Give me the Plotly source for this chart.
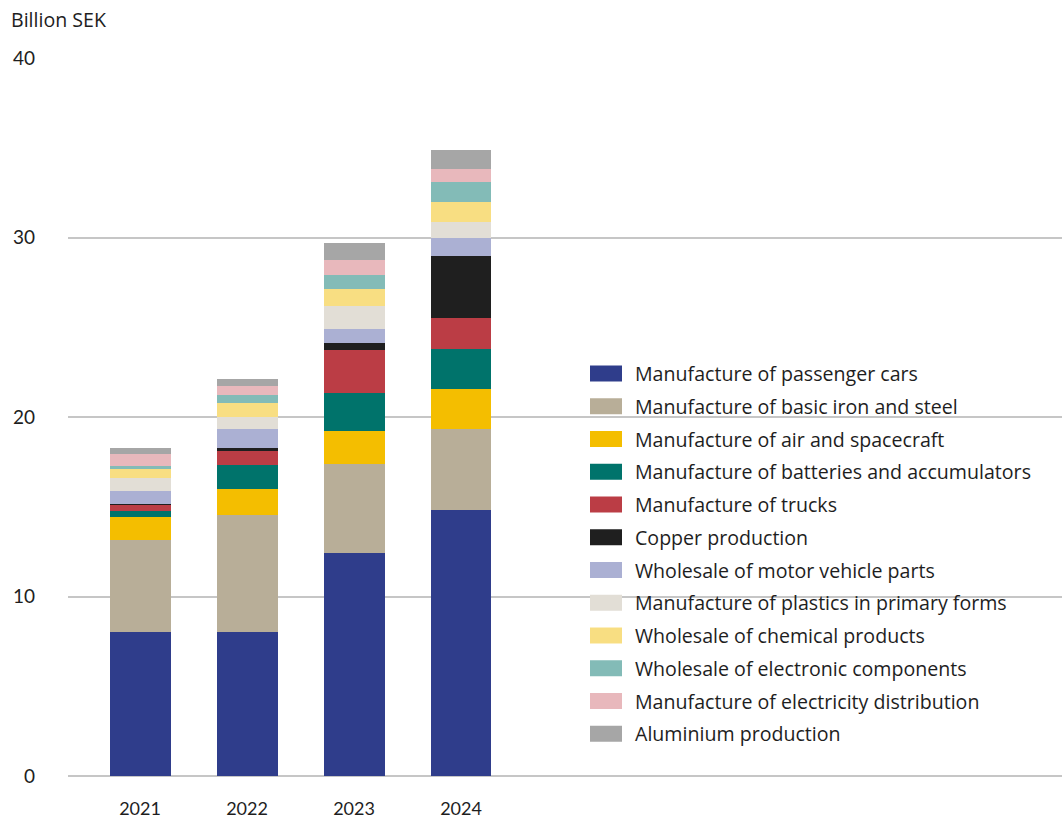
import plotly.graph_objects as go

years = ["2021", "2022", "2023", "2024"]
series_names = [
    "Manufacture of passenger cars",
    "Manufacture of basic iron and steel",
    "Manufacture of air and spacecraft",
    "Manufacture of batteries and accumulators",
    "Manufacture of trucks",
    "Copper production",
    "Wholesale of motor vehicle parts",
    "Manufacture of plastics in primary forms",
    "Wholesale of chemical products",
    "Wholesale of electronic components",
    "Manufacture of electricity distribution",
    "Aluminium production",
]
passenger_cars = [8.0, 8.0, 12.44, 14.82]
iron_steel = [5.16, 6.54, 4.94, 4.51]
air_spacecraft = [1.27, 1.45, 1.84, 2.23]
batteries = [0.33, 1.34, 2.12, 2.23]
trucks = [0.34, 0.78, 2.39, 1.73]
copper = [0.05, 0.16, 0.39, 3.45]
motor_parts = [0.73, 1.06, 0.78, 1.00]
plastics = [0.74, 0.67, 1.28, 0.89]
chemical = [0.48, 0.78, 0.95, 1.12]
electronic = [0.17, 0.45, 0.78, 1.11]
electricity = [0.67, 0.50, 0.84, 0.73]
aluminium = [0.33, 0.39, 0.94, 1.05]

series_values = [passenger_cars, iron_steel, air_spacecraft, batteries, trucks, copper,
                 motor_parts, plastics, chemical, electronic, electricity, aluminium]
colors = ["#2f3d8b", "#b8ae98", "#f4be00", "#00736b", "#bb3d45", "#1f1f1f",
          "#abb0d3", "#e2ded6", "#f8de82", "#83bbb7", "#e8b8bc", "#a6a6a6"]

FONT = "Lato"
LFONT = "Open Sans"
TXT = "#1e1e1e"

fig = go.Figure()
for name, vals, col in zip(series_names, series_values, colors):
    fig.add_trace(go.Bar(x=years, y=vals, name=name, marker=dict(color=col, line=dict(width=0)),
                         width=0.57, showlegend=False))

W, H = 1062, 824
ml, mr, mt, mb = 68, 0, 58, 48
pw, ph = W - ml - mr, H - mt - mb

def px_x(x):
    return (x - ml) / pw

def px_y(y):
    return (H - mb - y) / ph

shapes = []
annotations = []
for i, (name, col) in enumerate(zip(series_names, colors)):
    yc = 373.5 + i * 32.75
    shapes.append(dict(type="rect", xref="paper", yref="paper",
                       x0=px_x(590), x1=px_x(622), y0=px_y(yc + 8), y1=px_y(yc - 8),
                       fillcolor=col, line=dict(width=0)))
    annotations.append(dict(xref="paper", yref="paper", x=px_x(633), y=px_y(yc),
                            xanchor="left", yanchor="middle", showarrow=False,
                            text=name, font=dict(family=LFONT, size=19.6, color=TXT)))

annotations.append(dict(xref="paper", yref="paper", x=px_x(9), y=px_y(20),
                        xanchor="left", yanchor="middle", showarrow=False,
                        text="Billion SEK", font=dict(family=LFONT, size=19.6, color=TXT)))

fig.update_layout(
    barmode="stack",
    width=W, height=H,
    margin=dict(l=ml, r=mr, t=mt, b=mb),
    plot_bgcolor="white", paper_bgcolor="white",
    font=dict(family=FONT, size=18, color=TXT),
    shapes=shapes, annotations=annotations,
    showlegend=False,
    bargap=0,
)
fig.update_xaxes(type="category", range=[-0.673, 8.617], showgrid=False, zeroline=False,
                 showline=False, ticks="", ticklabelstandoff=20,
                 tickfont=dict(family=FONT, size=18, color=TXT))
fig.update_yaxes(range=[0, 40], tickvals=[0, 10, 20, 30, 40], showgrid=True,
                 gridcolor="#c6c6c6", gridwidth=1.5, zeroline=True, zerolinecolor="#c6c6c6",
                 zerolinewidth=1.5, showline=False, ticks="", ticklabelstandoff=32,
                 tickfont=dict(family=FONT, size=19, color=TXT))

fig.write_html("out.html")
